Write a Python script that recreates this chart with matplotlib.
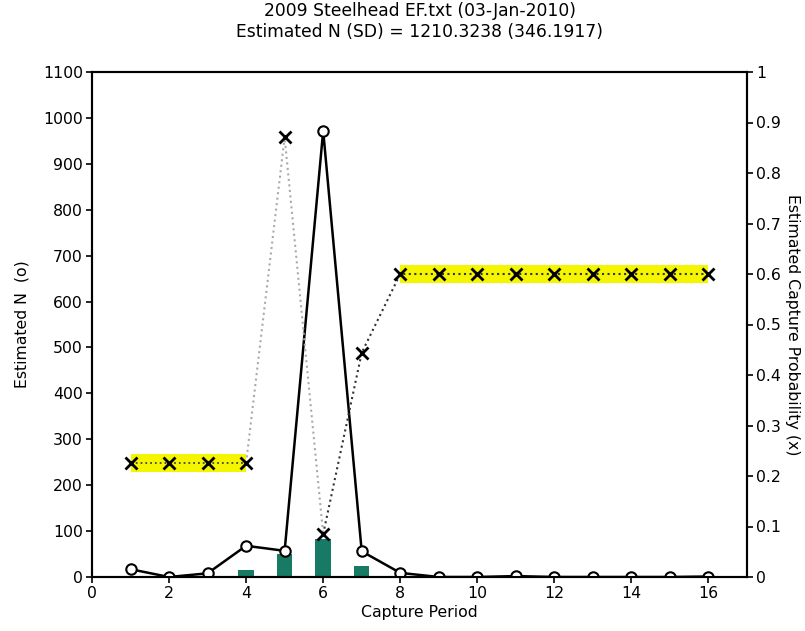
import matplotlib
matplotlib.use("Agg")
import matplotlib.pyplot as plt
import numpy as np

plt.rcParams['font.family'] = ['DejaVu Sans']

period = np.arange(1, 17)
est_n = [17, 0, 8, 68, 57, 972, 56, 9, 0, 0, 2, 0, 0, 0, 0, 1]
catch = [3, 0, 0, 15, 50, 82, 24, 3, 0, 0, 0, 0, 0, 0, 0, 0]
cap_prob = [0.226, 0.226, 0.226, 0.226, 0.871, 0.085, 0.444,
            0.6, 0.6, 0.6, 0.6, 0.6, 0.6, 0.6, 0.6, 0.6]
band1 = (1, 4, 0.226)
band2 = (8, 16, 0.6)

title = "2009 Steelhead EF.txt (03-Jan-2010)\nEstimated N (SD) = 1210.3238 (346.1917)"

fs = 11.3
fig = plt.figure(figsize=(8.05, 6.31), dpi=100)
ax = fig.add_axes([92/805, 1-577/631, (747-92)/805, (577-72)/631])
ax.bar(period, catch, width=0.4, color='#167a64', zorder=2)
ax.plot(period, est_n, '-o', color='black', lw=1.8, ms=7.5,
        mfc='white', mec='black', mew=1.5, zorder=3)
ax.set_xlim(0, 17)
ax.set_ylim(0, 1100)
ax.set_xticks(np.arange(0, 17, 2))
ax.set_yticks(np.arange(0, 1101, 100))
ax.tick_params(direction='out', length=4, width=1.2, labelsize=fs, pad=2.5)
for s in ax.spines.values():
    s.set_linewidth(1.5)
ax.set_xlabel('Capture Period', fontsize=fs, labelpad=3)
ax.set_ylabel('Estimated N  (o)', fontsize=fs, labelpad=10)
ax.set_title(title, fontsize=12.3, linespacing=1.25, pad=25)

ax2 = ax.twinx()
ax2.set_ylim(0, 1)
ax2.set_yticks(np.round(np.arange(0, 1.01, 0.1), 1))
ax2.set_yticklabels(['0'] + [f'{v:.1f}' for v in np.arange(0.1, 0.95, 0.1)] + ['1'])
ax2.tick_params(direction='out', length=4, width=1.2, labelsize=fs, pad=2.5)
for s in ax2.spines.values():
    s.set_linewidth(1.5)
ax2.set_ylabel('Estimated Capture Probability (x)', fontsize=fs, rotation=-90, labelpad=14)

for (x0, x1, y) in [band1, band2]:
    ax2.plot([x0, x1], [y, y], color='#f5f500', lw=13, solid_capstyle='butt', zorder=1)

p = np.array(period)
c = np.array(cap_prob)
# dotted connecting lines
ax2.plot(p[0:4], c[0:4], ':', color='#444444', lw=1.3, zorder=2)
ax2.plot(p[3:6], c[3:6], ':', color='#aaaaaa', lw=1.5, zorder=2)
ax2.plot(p[5:], c[5:], ':', color='#333333', lw=1.5, zorder=2)
ax2.plot(p, c, 'x', color='black', ms=9, mew=2, zorder=4)

fig.savefig('out.png', dpi=100)
